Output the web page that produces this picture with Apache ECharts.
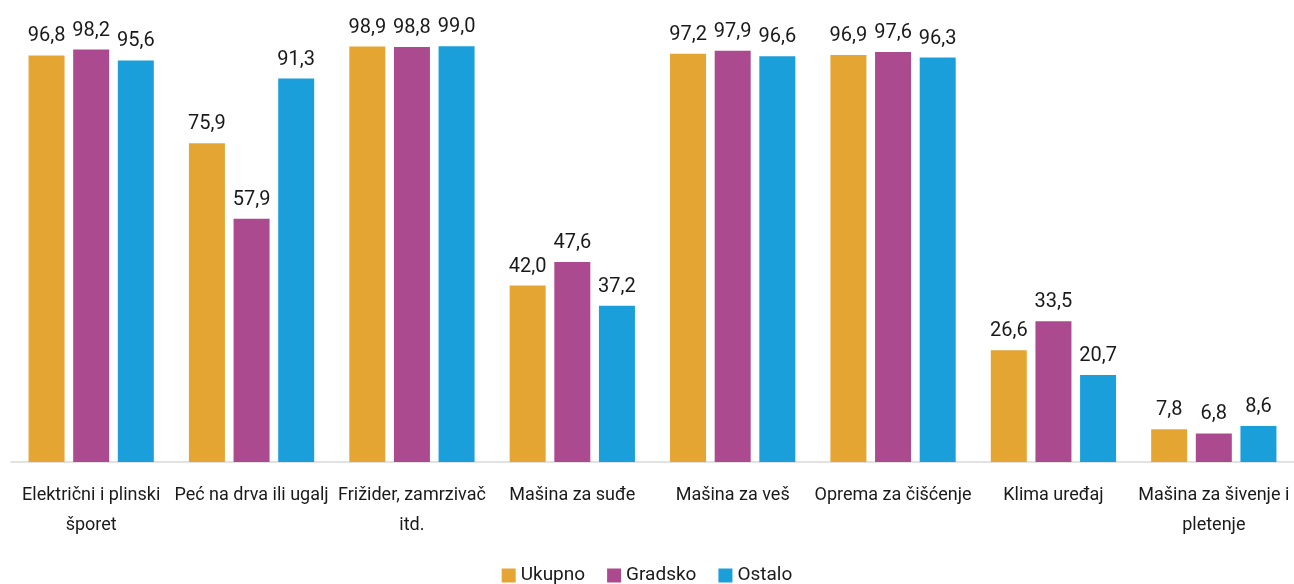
<!DOCTYPE html>
<html>
<head>
<meta charset="utf-8">
<script src="https://cdn.jsdelivr.net/npm/echarts@6/dist/echarts.min.js"></script>
<style>
  html, body { margin: 0; padding: 0; background: #fff; }
  #chart { width: 1294px; height: 584px; }
</style>
</head>
<body>
<div id="chart"></div>
<script>
const categories = [
    "Električni i plinski\nšporet",
    "Peć na drva ili ugalj",
    "Frižider, zamrzivač\nitd.",
    "Mašina za suđe",
    "Mašina za veš",
    "Oprema za čišćenje",
    "Klima uređaj",
    "Mašina za šivenje i\npletenje",
];
const ukupno = [96.8, 75.9, 98.9, 42.0, 97.2, 96.9, 26.6, 7.8];
const gradsko = [98.2, 57.9, 98.8, 47.6, 97.9, 97.6, 33.5, 6.8];
const ostalo = [95.6, 91.3, 99.0, 37.2, 96.6, 96.3, 20.7, 8.6];

const FONT = "Roboto, sans-serif";

const chart = echarts.init(document.getElementById("chart"));

const label = {
    show: true,
    position: "top",
    distance: 9,
    color: "#1a1a1a",
    fontFamily: FONT,
    fontSize: 20,
    formatter: (p) => p.value.toFixed(1).replace(".", ","),
};

const makeSeries = (name, data, color) => ({
    name,
    type: "bar",
    data,
    barWidth: 36,
    barGap: "24%",
    itemStyle: { color },
    label,
});

chart.setOption({
    animation: false,
    grid: { left: 11, right: 0, top: 42, height: 420 },
    legend: {
        top: 561,
        left: "center",
        itemWidth: 14,
        itemHeight: 14,
        itemGap: 22,
        icon: "rect",
        textStyle: { fontFamily: FONT, fontSize: 19, color: "#1a1a1a" },
        data: ["Ukupno", "Gradsko", "Ostalo"],
    },
    xAxis: {
        type: "category",
        data: categories,
        axisLine: { lineStyle: { color: "#d9d9d9", width: 1.5 } },
        axisTick: { show: false },
        axisLabel: {
            interval: 0,
            margin: 18,
            color: "#1a1a1a",
            fontFamily: FONT,
            fontSize: 18,
            lineHeight: 30,
        },
    },
    yAxis: {
        type: "value",
        min: 0,
        max: 100,
        show: false,
        splitLine: { show: false },
    },
    series: [
        makeSeries("Ukupno", ukupno, "#E5A532"),
        makeSeries("Gradsko", gradsko, "#AC4A90"),
        makeSeries("Ostalo", ostalo, "#1B9FDA"),
    ],
});
</script>
</body>
</html>
